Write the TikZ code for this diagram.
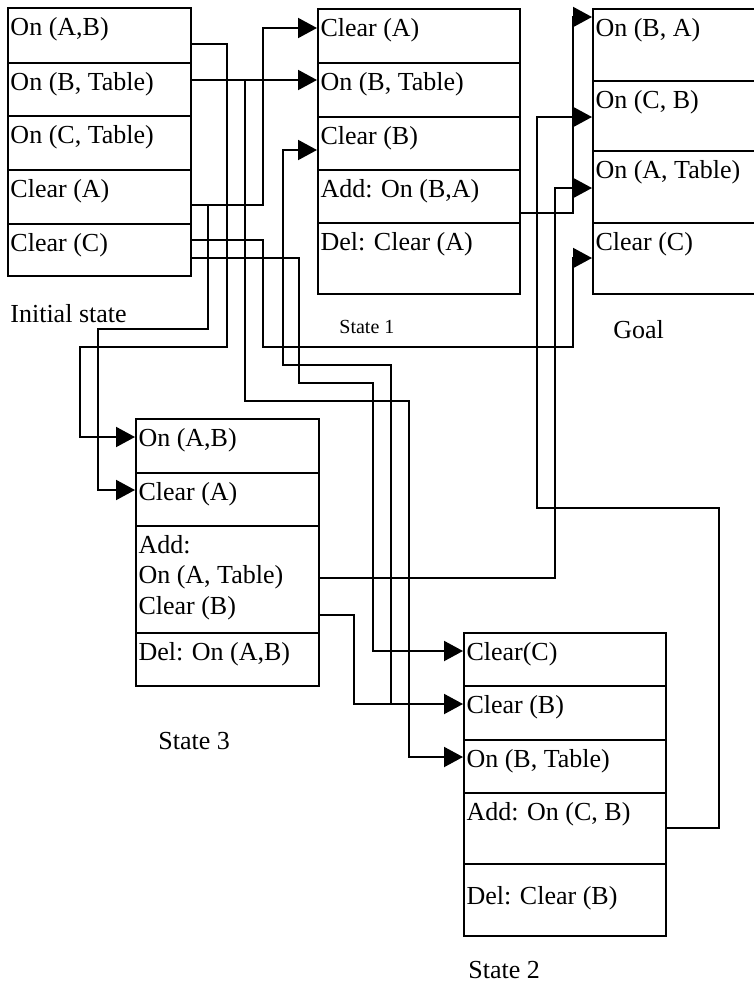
\documentclass[tikz,border=0pt]{standalone}
\usepackage{fontspec}
\setmainfont{Liberation Serif}
\usetikzlibrary{arrows.meta}

\tikzset{
  cell/.style 2 args={draw, line width=1.1pt, anchor=north west,
    inner xsep=1.2pt, inner ysep=0pt, align=flush left,
    text width=#1*0.5pt-2.4pt, text height=13.5pt, text depth=#2*0.5pt-13.5pt,
    font=\fontsize{13}{15.25}\selectfont},
  boxlabel/.style={anchor=base west, inner sep=0pt, font=\fontsize{13}{15}\selectfont},
  wire/.style={line width=1pt},
  feed/.style={wire, -{Triangle[length=9.5pt,width=10pt]}}
}

\begin{document}
\begin{tikzpicture}[x=0.5pt,y=-0.5pt]
\clip (0,0) rectangle (754,985);
% initial state
\node[cell={183}{55}] (ini1) at (7,7) {On (A,B)};
\node[cell={183}{53}] (ini2) at (7,62) {On (B, Table)};
\node[cell={183}{54}] (ini3) at (7,115) {On (C, Table)};
\node[cell={183}{54}] (ini4) at (7,169) {Clear (A)};
\node[cell={183}{52}] (ini5) at (7,223) {Clear (C)};
\node[boxlabel] (lini) at (10,322) {Initial state};
% state 1
\node[cell={202}{54}] (s1a) at (317,8) {Clear (A)};
\node[cell={202}{54}] (s1b) at (317,62) {On (B, Table)};
\node[cell={202}{53}] (s1c) at (317,116) {Clear (B)};
\node[cell={202}{53}] (s1d) at (317,169) {Add: On (B,A)};
\node[cell={202}{71}] (s1e) at (317,222) {Del: Clear (A)};
\node[boxlabel, font=\fontsize{10}{12}\selectfont] (ls1) at (339,333) {State 1};
% goal
\node[cell={168}{72}] (g1) at (592,8) {On (B, A)};
\node[cell={168}{70}] (g2) at (592,80) {On (C, B)};
\node[cell={168}{72}] (g3) at (592,150) {On (A, Table)};
\node[cell={168}{71}] (g4) at (592,222) {Clear (C)};
\node[boxlabel] (lgoal) at (613,338) {Goal};
% state 3
\node[cell={183}{54}] (s3a) at (135,418) {On (A,B)};
\node[cell={183}{53}] (s3b) at (135,472) {Clear (A)};
\node[cell={183}{107}] (s3c) at (135,525) {Add:\\On (A, Table)\\Clear (B)};
\node[cell={183}{53}] (s3d) at (135,632) {Del: On (A,B)};
\node[boxlabel] (ls3) at (158,749) {State 3};
% state 2
\node[cell={202}{53}] (s2a) at (463,632) {Clear(C)};
\node[cell={202}{54}] (s2b) at (463,685) {Clear (B)};
\node[cell={202}{53}] (s2c) at (463,739) {On (B, Table)};
\node[cell={202}{71}] (s2d) at (463,792) {Add: On (C, B)};
\node[cell={202}{72}, text height=20pt, text depth=16pt] (s2e) at (463,863) {Del: Clear (B)};
\node[boxlabel] (ls2) at (468,978) {State 2};

\draw[feed] (ini1.east|-0,44) -| (227,347) -| (80,437) -- (s3a.west|-0,437);
\draw[feed] (ini2.east|-0,80) -- (s1b.west|-0,80);
\draw[feed] (ini2.east|-0,80) -| (245,401) -| (409,757) -- (s2c.west|-0,757);
\draw[feed] (ini4.east|-0,205) -| (263,28) -- (s1a.west|-0,28);
\draw[feed] (ini4.east|-0,205) -| (208,329) -| (98,490) -- (s3b.west|-0,490);
\draw[feed] (ini5.east|-0,240) -| (263,347) -| (573,258) -- (g4.west|-0,258);
\draw[feed] (ini5.east|-0,258) -| (299,383) -| (373,651) -- (s2a.west|-0,651);
\draw[feed] (s3c.east|-0,615) -| (354,704) -- (s2b.west|-0,704);
\draw[feed] (s3c.east|-0,615) -| (354,704) -| (391,365) -| (283,150) -- (s1c.west|-0,150);
\draw[feed] (s3c.east|-0,578) -| (555,188) -- (g3.west|-0,188);
\draw[feed] (s1d.east|-0,213) -| (573,17) -- (g1.west|-0,17);
\draw[feed] (s2d.east|-0,828) -| (719,508) -| (537,117) -- (g2.west|-0,117);
\end{tikzpicture}
\end{document}
